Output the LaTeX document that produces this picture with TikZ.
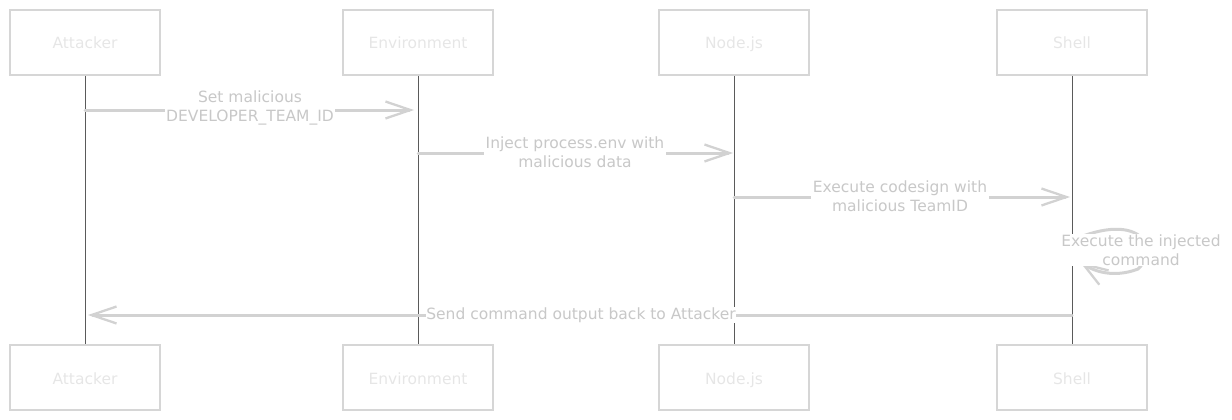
\documentclass[tikz,border=0pt]{standalone}
\usepackage{fontspec}
\setmainfont{DejaVu Sans}
\usetikzlibrary{arrows.meta}
\definecolor{boxline}{HTML}{D6D6D6}
\definecolor{boxtext}{HTML}{E6E6E6}
\definecolor{msgline}{HTML}{D2D2D2}
\definecolor{msgtext}{HTML}{C8C8C8}
\definecolor{life}{HTML}{5A5A5A}
\tikzset{
  actor/.style={draw=boxline, line width=2pt, minimum width=150pt, minimum height=65pt,
    inner sep=0pt, text=boxtext, text height=14pt, text depth=1pt,
    font=\fontsize{15.5}{19}\selectfont},
  lifeline/.style={draw=life, line width=1pt},
  msg/.style={draw=msgline, line width=3pt, line cap=round,
    -{Straight Barb[length=25pt,width=17pt,line width=2.3pt]}},
  msglabel/.style={fill=white, text=msgtext, align=center, inner sep=1.5pt,
    font=\fontsize{15.5}{19}\selectfont},
}
\begin{document}
\begin{tikzpicture}[x=1pt,y=-1pt]
\useasboundingbox (0,0) rectangle (1232,420);
% actors
\node[actor] (atT) at (85,42.5) {Attacker};
\node[actor] (envT) at (418,42.5) {Environment};
\node[actor] (nodeT) at (734,42.5) {Node.js};
\node[actor] (shT) at (1072,42.5) {Shell};
\node[actor] (atB) at (85,377.5) {Attacker};
\node[actor] (envB) at (418,377.5) {Environment};
\node[actor] (nodeB) at (734,377.5) {Node.js};
\node[actor] (shB) at (1072,377.5) {Shell};
% lifelines
\draw[lifeline] (atT.south) -- (atB.north);
\draw[lifeline] (envT.south) -- (envB.north);
\draw[lifeline] (nodeT.south) -- (nodeB.north);
\draw[lifeline] (shT.south) -- (shB.north);
% message heights
\coordinate (y1) at (0,110);
\coordinate (y2) at (0,153);
\coordinate (y3) at (0,197);
\coordinate (y5) at (0,315);
\coordinate (loopA) at (1073,240);
\coordinate (loopB) at (1080,262);
% messages
\draw[msg] (atT |- y1) -- ([xshift=-4pt]envT |- y1);
\node[msglabel] (l1) at (250,108) {Set malicious\\DEVELOPER\_TEAM\_ID};
\draw[msg] (envT |- y2) -- ([xshift=-1pt]nodeT |- y2);
\node[msglabel] (l2) at (575,152) {Inject process.env with\\malicious data};
\draw[msg] (nodeT |- y3) -- ([xshift=-2pt]shT |- y3);
\node[msglabel] (l3) at (900,196) {Execute codesign with\\malicious TeamID};
\draw[msg] (loopA) .. controls (1105,226) and (1130,226) .. (1142,238)
  .. controls (1148,250) and (1146,262) .. (1138,269)
  .. controls (1120,276) and (1100,275) .. (loopB);
\node[msglabel, inner sep=0.5pt] (l4) at (1141,250) {Execute the injected\\command};
\draw[msg] (shT |- y5) -- ([xshift=3pt]atT |- y5);
\node[msglabel, inner sep=0.5pt] (l5) at (581,315) {Send command output back to Attacker};
\end{tikzpicture}
\end{document}
